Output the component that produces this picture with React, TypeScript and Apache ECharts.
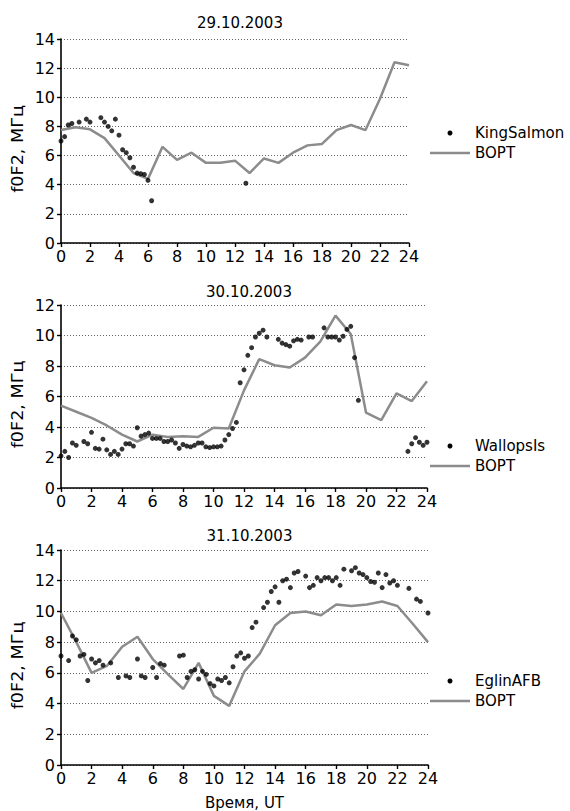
import React, { useEffect, useRef } from "react";
import * as echarts from "echarts";

const hours = [0, 1, 2, 3, 4, 5, 6, 7, 8, 9, 10, 11, 12, 13, 14, 15, 16, 17, 18, 19, 20, 21, 22, 23, 24];

const titles = ["29.10.2003", "30.10.2003", "31.10.2003"];
const stations = ["KingSalmon", "WallopsIs", "EglinAFB"];
const modelName = "BOPT";
const yTitle = "f0F2, МГц";
const xTitle = "Время, UT";
const yMax = [14, 12, 14];

// 29.10.2003
const bopt1 = [7.75, 7.95, 7.8, 7.2, 6.0, 4.8, 4.4, 6.6, 5.7, 6.2, 5.5, 5.5, 5.65, 4.8, 5.8, 5.5, 6.2, 6.7, 6.8, 7.75, 8.1, 7.75, 9.9, 12.4, 12.2];
const ksTimes = [0, 0.25, 0.5, 0.75, 1.25, 1.75, 2, 2.75, 3, 3.25, 3.5, 3.75, 4, 4.25, 4.5, 4.75, 5, 5.25, 5.5, 5.75, 6, 6.25, 12.75];
const ksValues = [7.0, 7.3, 8.1, 8.2, 8.3, 8.5, 8.3, 8.6, 8.3, 8.0, 7.7, 8.5, 7.4, 6.4, 6.2, 5.85, 5.2, 4.8, 4.75, 4.7, 4.3, 2.9, 4.1];

// 30.10.2003
const bopt2 = [5.4, 5.0, 4.6, 4.1, 3.5, 3.05, 3.5, 3.35, 3.4, 3.35, 3.95, 3.9, 6.4, 8.45, 8.05, 7.9, 8.55, 9.6, 11.3, 10.1, 4.95, 4.45, 6.2, 5.7, 7.0];
const wiTimes = [0, 0.25, 0.5, 0.75, 1, 1.5, 1.75, 2, 2.25, 2.5, 2.75, 3, 3.25, 3.5, 3.75, 4, 4.25, 4.5, 4.75, 5, 5.25, 5.5, 5.75, 6, 6.25, 6.5, 6.75, 7, 7.25, 7.5, 7.75, 8, 8.25, 8.5, 8.75, 9, 9.25, 9.5, 9.75, 10, 10.25, 10.5, 10.75, 11, 11.25, 11.5, 11.75, 12, 12.25, 12.5, 12.75, 13, 13.25, 13.5, 14.25, 14.5, 14.75, 15, 15.25, 15.5, 15.75, 16.25, 16.5, 17.25, 17.5, 17.75, 18, 18.25, 18.5, 18.75, 19, 19.25, 19.5, 22.75, 23, 23.25, 23.5, 23.75, 24];
const wiValues = [2.1, 2.4, 2.0, 2.95, 2.8, 3.05, 2.9, 3.65, 2.6, 2.55, 3.2, 2.5, 2.2, 2.4, 2.2, 2.55, 2.9, 2.9, 2.75, 3.95, 3.4, 3.5, 3.6, 3.25, 3.25, 3.25, 3.05, 3.05, 3.15, 2.95, 2.6, 2.85, 2.75, 2.7, 2.8, 2.95, 2.95, 2.7, 2.65, 2.7, 2.7, 2.75, 3.15, 3.5, 3.9, 4.3, 6.9, 7.75, 8.7, 9.2, 9.9, 10.15, 10.35, 9.9, 9.75, 9.5, 9.4, 9.3, 9.65, 9.75, 9.7, 9.9, 9.9, 10.5, 9.9, 9.9, 9.9, 9.7, 9.95, 10.4, 10.6, 8.55, 5.75, 2.4, 2.9, 3.3, 3.0, 2.8, 3.0];

// 31.10.2003
const bopt3 = [9.9, 8.0, 6.0, 6.45, 7.7, 8.35, 6.9, 5.9, 4.95, 6.65, 4.5, 3.85, 6.1, 7.25, 9.1, 9.9, 10.0, 9.75, 10.45, 10.35, 10.45, 10.65, 10.35, 9.2, 8.0];
const egTimes = [0, 0.5, 0.75, 1, 1.25, 1.5, 1.75, 2, 2.25, 2.5, 2.75, 3.25, 3.75, 4.25, 4.5, 5, 5.25, 5.5, 6, 6.25, 6.5, 6.75, 7.75, 8, 8.25, 8.5, 8.75, 9, 9.25, 9.5, 9.75, 10, 10.25, 10.5, 10.75, 11, 11.25, 11.5, 11.75, 12, 12.25, 12.5, 12.75, 13.25, 13.5, 13.75, 14, 14.25, 14.5, 14.75, 15, 15.25, 15.5, 16, 16.25, 16.5, 16.75, 17, 17.25, 17.5, 17.75, 18, 18.25, 18.5, 19, 19.25, 19.5, 19.75, 20, 20.25, 20.5, 20.75, 21, 21.25, 21.5, 21.75, 22, 22.75, 23.25, 23.5, 24];
const egValues = [7.1, 6.8, 8.4, 8.15, 7.1, 7.2, 5.5, 6.9, 6.65, 6.8, 6.5, 6.65, 5.7, 5.8, 5.7, 6.9, 5.8, 5.7, 6.35, 5.7, 6.6, 6.5, 7.1, 7.15, 5.7, 6.1, 6.2, 5.6, 6.1, 5.9, 5.3, 5.15, 5.6, 5.5, 5.7, 5.35, 6.4, 7.1, 7.3, 6.95, 7.1, 8.95, 9.3, 10.25, 10.6, 11.3, 11.6, 10.6, 12.0, 12.1, 11.55, 12.5, 12.6, 12.3, 11.55, 11.7, 12.2, 12.0, 12.2, 12.2, 12.0, 12.2, 11.7, 12.75, 12.65, 12.85, 12.5, 12.4, 12.2, 11.95, 11.9, 12.5, 11.55, 12.4, 11.85, 12.0, 11.7, 11.5, 10.8, 10.65, 9.9];

const boptSets = [bopt1, bopt2, bopt3];
const obsTimes = [ksTimes, wiTimes, egTimes];
const obsValues = [ksValues, wiValues, egValues];

const FONT = "DejaVu Sans";
const grids = [
  { left: 61, top: 39, width: 348, height: 204 },
  { left: 61, top: 305, width: 366, height: 183 },
  { left: 61, top: 550, width: 367, height: 215 },
];
const legendRows = [133, 446, 681];
const titleTops = [10, 279, 523];
const LINE_COLOR = "#8c8c8c";

export default function App() {
  const ref = useRef<HTMLDivElement>(null);
  useEffect(() => {
    const chart = echarts.init(ref.current!, null, { renderer: "svg" });
    const series: any[] = [];
    const xAxis: any[] = [];
    const yAxis: any[] = [];
    const title: any[] = [];
    const graphic: any[] = [];
    grids.forEach((g, i) => {
      xAxis.push({
        gridIndex: i,
        type: "value",
        min: 0,
        max: 24,
        interval: 2,
        name: i === 2 ? xTitle : "",
        nameLocation: "middle",
        nameGap: 30,
        nameTextStyle: { color: "#000", fontSize: 15, fontFamily: FONT },
        axisLine: { lineStyle: { color: "#000", width: 1.6 } },
        axisTick: { show: true, length: 4, lineStyle: { color: "#000", width: 1.4 } },
        axisLabel: { color: "#000", fontSize: 16, fontFamily: FONT, margin: 5 },
        splitLine: { show: false },
      });
      yAxis.push({
        gridIndex: i,
        type: "value",
        min: 0,
        max: yMax[i],
        interval: 2,
        axisLine: { show: true, lineStyle: { color: "#000", width: 1.6 } },
        axisTick: { show: true, length: 4, lineStyle: { color: "#000", width: 1.4 } },
        axisLabel: { color: "#000", fontSize: 16, fontFamily: FONT, margin: 6 },
        splitLine: { show: true, lineStyle: { color: "#666", width: 1, type: [1, 2] } },
      });
      series.push({
        name: stations[i],
        type: "scatter",
        xAxisIndex: i,
        yAxisIndex: i,
        symbol: "circle",
        symbolSize: 5,
        itemStyle: { color: "#000" },
        data: obsTimes[i].map((t, k) => [t, obsValues[i][k]]),
        z: 3,
      });
      series.push({
        name: modelName,
        type: "line",
        xAxisIndex: i,
        yAxisIndex: i,
        symbol: "none",
        showSymbol: false,
        lineStyle: { color: LINE_COLOR, width: 2.5 },
        itemStyle: { color: LINE_COLOR },
        data: hours.map((h, k) => [h, boptSets[i][k]]),
        z: 2,
      });
      title.push({
        text: titles[i],
        left: g.left + g.width / 2,
        top: titleTops[i],
        textAlign: "center",
        textStyle: { color: "#000", fontSize: 15, fontWeight: "normal", fontFamily: FONT },
      });
      // y-axis title
      graphic.push({
        type: "text",
        x: 17,
        y: g.top + g.height / 2 + 8,
        rotation: Math.PI / 2,
        scaleX: 1.1,
        style: {
          text: yTitle,
          fill: "#000",
          font: `16px "${FONT}"`,
          textAlign: "center",
          textVerticalAlign: "middle",
        },
      });
      // legend
      const ly = legendRows[i];
      graphic.push({
        type: "circle",
        shape: { cx: 450, cy: ly, r: 2.5 },
        style: { fill: "#000" },
      });
      graphic.push({
        type: "text",
        x: 475,
        y: ly,
        style: { text: stations[i], fill: "#000", font: `15px "${FONT}"`, textVerticalAlign: "middle" },
      });
      graphic.push({
        type: "line",
        shape: { x1: 430, y1: ly + 20, x2: 470, y2: ly + 20 },
        style: { stroke: LINE_COLOR, lineWidth: 2.5 },
      });
      graphic.push({
        type: "text",
        x: 475,
        y: ly + 20,
        style: { text: modelName, fill: "#000", font: `15px "${FONT}"`, textVerticalAlign: "middle" },
      });
    });
    chart.setOption({
      animation: false,
      backgroundColor: "#fff",
      grid: grids,
      xAxis,
      yAxis,
      series,
      title,
      graphic,
    });
    return () => chart.dispose();
  }, []);
  return (
    <div
      ref={ref}
      style={{ position: "absolute", left: 0, top: 0, width: 570, height: 811, background: "#fff" }}
    />
  );
}
